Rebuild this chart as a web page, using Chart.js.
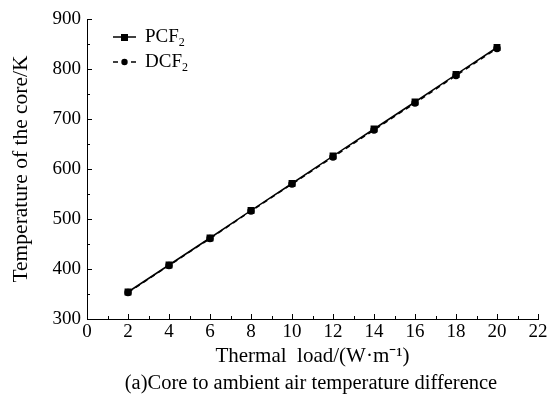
<!DOCTYPE html>
<html>
<head>
<meta charset="utf-8">
<script src="https://cdn.jsdelivr.net/npm/chart.js@4.4.0/dist/chart.umd.min.js"></script>
<style>
  html, body { margin: 0; padding: 0; background: #fff; }
  #wrap { width: 555px; height: 402px; }
</style>
</head>
<body>
<div id="wrap"><canvas id="chart" width="555" height="402"></canvas></div>
<script>
// thermal load (W/m)
const loads = [2, 4, 6, 8, 10, 12, 14, 16, 18, 20];
// core temperature (K)
const pcf2 = [354, 408, 462, 517, 571, 626, 680, 734, 789, 843];
const dcf2 = [353, 407, 461, 516, 570, 624, 678, 732, 787, 841];

const xTicks = [0, 2, 4, 6, 8, 10, 12, 14, 16, 18, 20, 22];
const yTicks = [300, 400, 500, 600, 700, 800, 900];

const serif = "'Liberation Serif', 'Times New Roman', serif";

// inward tick marks, drawn from the scales
const innerTicks = {
  id: 'innerTicks',
  afterDraw(chart) {
    const ctx = chart.ctx;
    const xs = chart.scales.x, ys = chart.scales.y;
    ctx.save();
    ctx.strokeStyle = '#000';
    ctx.lineWidth = 1;
    ctx.beginPath();
    for (let v = 0; v <= 22; v += 1) {
      const px = Math.round(xs.getPixelForValue(v)) + 0.5;
      const len = v % 2 === 0 ? 5 : 3;
      ctx.moveTo(px, ys.bottom);
      ctx.lineTo(px, ys.bottom - len);
    }
    for (let v = 300; v <= 900; v += 50) {
      const py = Math.round(ys.getPixelForValue(v)) + 0.5;
      const len = v % 100 === 0 ? 5 : 3;
      ctx.moveTo(xs.left, py);
      ctx.lineTo(xs.left + len, py);
    }
    ctx.stroke();
    ctx.restore();
  }
};

// legend with subscripts and the caption
const legendCaption = {
  id: 'legendCaption',
  afterDraw(chart) {
    const ctx = chart.ctx;
    ctx.save();
    ctx.fillStyle = '#000';
    ctx.strokeStyle = '#000';
    ctx.lineWidth = 1.5;
    const rows = [
      { y: 37, name: 'PCF', dash: [], square: true },
      { y: 62, name: 'DCF', dash: [5, 4], square: false }
    ];
    rows.forEach(r => {
      ctx.setLineDash(r.dash);
      ctx.beginPath();
      ctx.moveTo(113, r.y);
      ctx.lineTo(136, r.y);
      ctx.stroke();
      ctx.setLineDash([]);
      if (r.square) {
        ctx.fillRect(121, r.y - 3, 7, 7);
      } else {
        ctx.beginPath();
        ctx.arc(124.5, r.y, 3.2, 0, Math.PI * 2);
        ctx.fill();
      }
      ctx.font = '19px ' + serif;
      ctx.textBaseline = 'middle';
      ctx.textAlign = 'left';
      ctx.fillText(r.name, 145, r.y);
      const w = ctx.measureText(r.name).width;
      ctx.font = '12px ' + serif;
      ctx.fillText('2', 145 + w, r.y + 6);
    });
    ctx.font = '20.5px ' + serif;
    ctx.textAlign = 'center';
    ctx.textBaseline = 'middle';
    ctx.fillText('(a)Core to ambient air temperature difference', 311, 384);
    ctx.restore();
  }
};

const ctx = document.getElementById('chart').getContext('2d');

new Chart(ctx, {
  type: 'line',
  data: {
    datasets: [
      {
        label: 'PCF2',
        data: loads.map((x, i) => ({ x: x, y: pcf2[i] })),
        borderColor: '#000',
        backgroundColor: '#000',
        borderWidth: 1.5,
        pointStyle: 'rect',
        pointRadius: 3.8,
        fill: false
      },
      {
        label: 'DCF2',
        data: loads.map((x, i) => ({ x: x, y: dcf2[i] })),
        borderColor: '#000',
        backgroundColor: '#000',
        borderWidth: 1.5,
        borderDash: [5, 4],
        pointStyle: 'circle',
        pointRadius: 3,
        fill: false
      }
    ]
  },
  options: {
    responsive: false,
    animation: false,
    layout: { padding: { left: 0, right: 17, top: 19, bottom: 0 } },
    plugins: {
      legend: { display: false },
      tooltip: { enabled: false }
    },
    scales: {
      x: {
        type: 'linear',
        min: 0,
        max: 22,
        afterBuildTicks: s => { s.ticks = xTicks.map(v => ({ value: v })); },
        afterFit: s => { s.height = 83; },
        grid: { display: true, drawOnChartArea: false, drawTicks: false },
        border: { display: true, color: '#000', width: 1 },
        ticks: { color: '#000', padding: 2, font: { family: serif, size: 19 }, maxRotation: 0 },
        title: {
          display: true,
          text: 'Thermal  load/(W·m⁻¹)',
          color: '#000',
          font: { family: serif, size: 21 },
          padding: { top: 0, bottom: 33 }
        }
      },
      y: {
        min: 300,
        max: 900,
        afterBuildTicks: s => { s.ticks = yTicks.map(v => ({ value: v })); },
        afterFit: s => { s.width = 87; },
        grid: { display: true, drawOnChartArea: false, drawTicks: false },
        border: { display: true, color: '#000', width: 1 },
        ticks: { color: '#000', padding: 6, font: { family: serif, size: 19 } },
        title: {
          display: true,
          text: 'Temperature of the core/K',
          color: '#000',
          font: { family: serif, size: 21.5 },
          padding: { top: 8, bottom: 0 }
        }
      }
    }
  },
  plugins: [innerTicks, legendCaption]
});
</script>
</body>
</html>
